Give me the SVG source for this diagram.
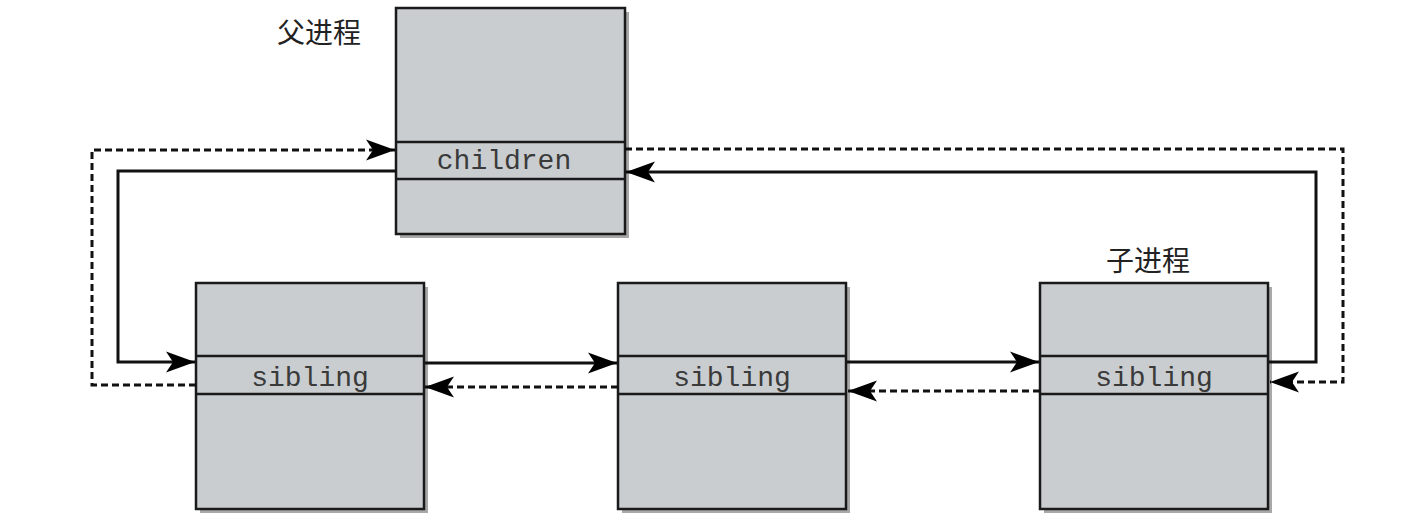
<svg xmlns="http://www.w3.org/2000/svg" width="1428" height="529" viewBox="0 0 1428 529">
<style>
.shadow{fill:#a8a8a8;}
.box{fill:#c9cdd0;stroke:#1a1a1a;stroke-width:2.5;}
.div{stroke:#1a1a1a;stroke-width:2.5;}
.mono{font-family:"Liberation Mono","DejaVu Sans Mono",monospace;font-size:28px;fill:#3a3a3a;text-anchor:middle;}
.cjk{font-family:"Noto Sans CJK SC","Noto Sans",sans-serif;font-size:28px;fill:#222;}
.solid{fill:none;stroke:#111;stroke-width:3;}
.dash{fill:none;stroke:#111;stroke-width:3;stroke-dasharray:7 4;}
</style>
<defs>
<marker id="ah" markerUnits="userSpaceOnUse" markerWidth="32" markerHeight="24" viewBox="-1 -12 31 24" refX="29" refY="0" orient="auto">
<path d="M0,-10.5 L29,0 L0,10.5 L7,0 Z" fill="#000"/>
</marker>
</defs>
<rect width="1428" height="529" fill="#fff"/>
<g id="parent">
<rect class="shadow" x="400" y="12" width="229" height="226"/>
<rect class="box" x="396" y="8" width="229" height="226"/>
<line class="div" x1="396" y1="142" x2="625" y2="142"/>
<line class="div" x1="396" y1="179" x2="625" y2="179"/>
<text class="mono" x="504" y="169">children</text>
<text class="cjk" x="277" y="43">父进程</text>
</g>
<g id="child1">
<rect class="shadow" x="200" y="287" width="228" height="226"/>
<rect class="box" x="196" y="283" width="228" height="226"/>
<line class="div" x1="196" y1="356" x2="424" y2="356"/>
<line class="div" x1="196" y1="394" x2="424" y2="394"/>
<text class="mono" x="310" y="386">sibling</text>
</g>
<g id="child2">
<rect class="shadow" x="622" y="287" width="228" height="226"/>
<rect class="box" x="618" y="283" width="228" height="226"/>
<line class="div" x1="618" y1="356" x2="846" y2="356"/>
<line class="div" x1="618" y1="394" x2="846" y2="394"/>
<text class="mono" x="732" y="386">sibling</text>
</g>
<g id="child3">
<rect class="shadow" x="1044" y="287" width="228" height="226"/>
<rect class="box" x="1040" y="283" width="228" height="226"/>
<line class="div" x1="1040" y1="356" x2="1268" y2="356"/>
<line class="div" x1="1040" y1="394" x2="1268" y2="394"/>
<text class="mono" x="1154" y="386">sibling</text>
<text class="cjk" x="1106" y="271">子进程</text>
</g>
<g id="connectors">
<path class="solid" d="M396,171 H118 V362 H195" marker-end="url(#ah)"/>
<path class="dash" d="M196,385 H92 V150 H395" marker-end="url(#ah)"/>
<path class="solid" d="M1269,362 H1316 V172 H626" marker-end="url(#ah)"/>
<path class="dash" d="M625,149 H1343 V382 H1270" marker-end="url(#ah)"/>
<path class="solid" d="M425,363 H617" marker-end="url(#ah)"/>
<path class="dash" d="M618,387 H425" marker-end="url(#ah)"/>
<path class="solid" d="M847,362 H1039" marker-end="url(#ah)"/>
<path class="dash" d="M1040,391 H848" marker-end="url(#ah)"/>
</g>
</svg>
